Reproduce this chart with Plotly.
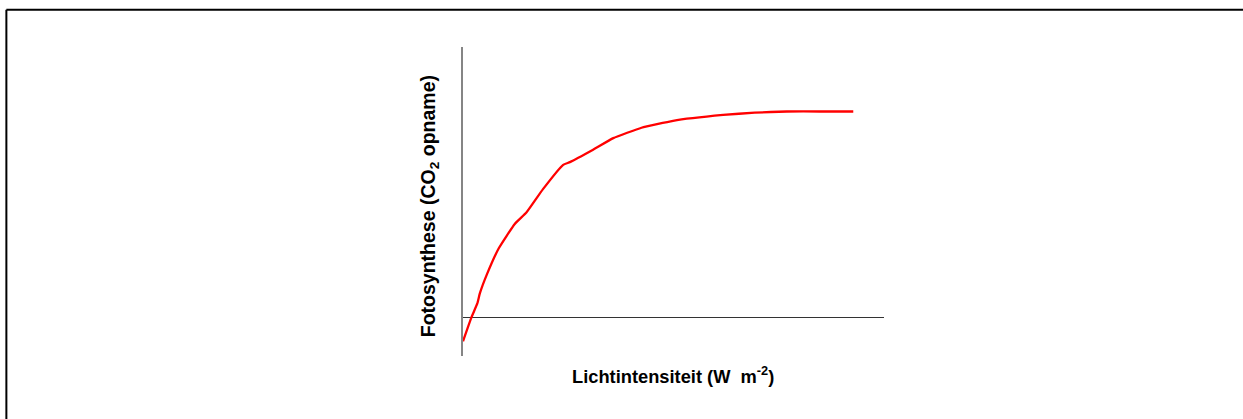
import plotly.graph_objects as go

# Light intensity (arbitrary units) and photosynthesis (CO2 uptake, arbitrary units)
light = [0, 2.0, 3.4, 4.0, 5.7, 8.5, 12.3, 15.1, 19.0, 23.8, 25.4, 30.9, 35.7,
         42.4, 49.9, 61.8, 69.3, 76.9, 84.8, 92.7]
photo = [-0.62, 0.0, 0.36, 0.62, 1.12, 1.79, 2.42, 2.72, 3.32, 3.95, 4.02, 4.34,
         4.64, 4.91, 5.09, 5.24, 5.30, 5.33, 5.33, 5.33]

x_title = "Lichtintensiteit (W&nbsp; m<sup>-2</sup>)"
y_title = "Fotosynthese (CO<sub>2</sub> opname)"

W, H = 1243, 419
L, R, T, B = 463.3, 884.0, 47.3, 356.0

def px(xp):
    return (xp - L) / (R - L)

def py(yp):
    return (B - yp) / (B - T)

fig = go.Figure()
fig.add_trace(go.Scatter(x=light, y=photo, mode="lines",
                         line=dict(color="#ff0000", width=2.3, shape="spline", smoothing=0.4),
                         hoverinfo="skip", showlegend=False))

fam = "Liberation Sans, Arial, sans-serif"

fig.update_layout(
    width=W, height=H,
    margin=dict(l=L, r=W - R, t=T, b=H - B, pad=0),
    paper_bgcolor="white", plot_bgcolor="white",
    xaxis=dict(range=[0, 100], showgrid=False, zeroline=False, showline=False,
               showticklabels=False, ticks=""),
    yaxis=dict(range=[-1, 7], showgrid=False, showticklabels=False, ticks="",
               showline=True, linecolor="#858585", linewidth=2,
               zeroline=True, zerolinecolor="#333333", zerolinewidth=1.2),
    annotations=[
        dict(text="<b>" + x_title + "</b>", xref="paper", yref="paper",
             x=px(673.5), y=py(375), showarrow=False,
             font=dict(family=fam, size=18.3, color="black"),
             xanchor="center", yanchor="middle"),
        dict(text="<b>" + y_title + "</b>", xref="paper", yref="paper",
             x=px(430), y=py(206.7), showarrow=False,
             font=dict(family=fam, size=19.5, color="black"), textangle=-90,
             xanchor="center", yanchor="middle"),
    ],
    shapes=[
        dict(type="line", xref="paper", yref="paper", x0=px(7), x1=px(1260),
             y0=py(10), y1=py(10), line=dict(color="black", width=2)),
        dict(type="line", xref="paper", yref="paper", x0=px(7), x1=px(7),
             y0=py(10), y1=py(430), line=dict(color="black", width=2)),
    ],
)

fig.write_html("out.html", config={"displayModeBar": False},
               post_script="document.body.style.margin='0';document.body.style.overflow='hidden';"
                           "document.documentElement.style.overflow='hidden';")
